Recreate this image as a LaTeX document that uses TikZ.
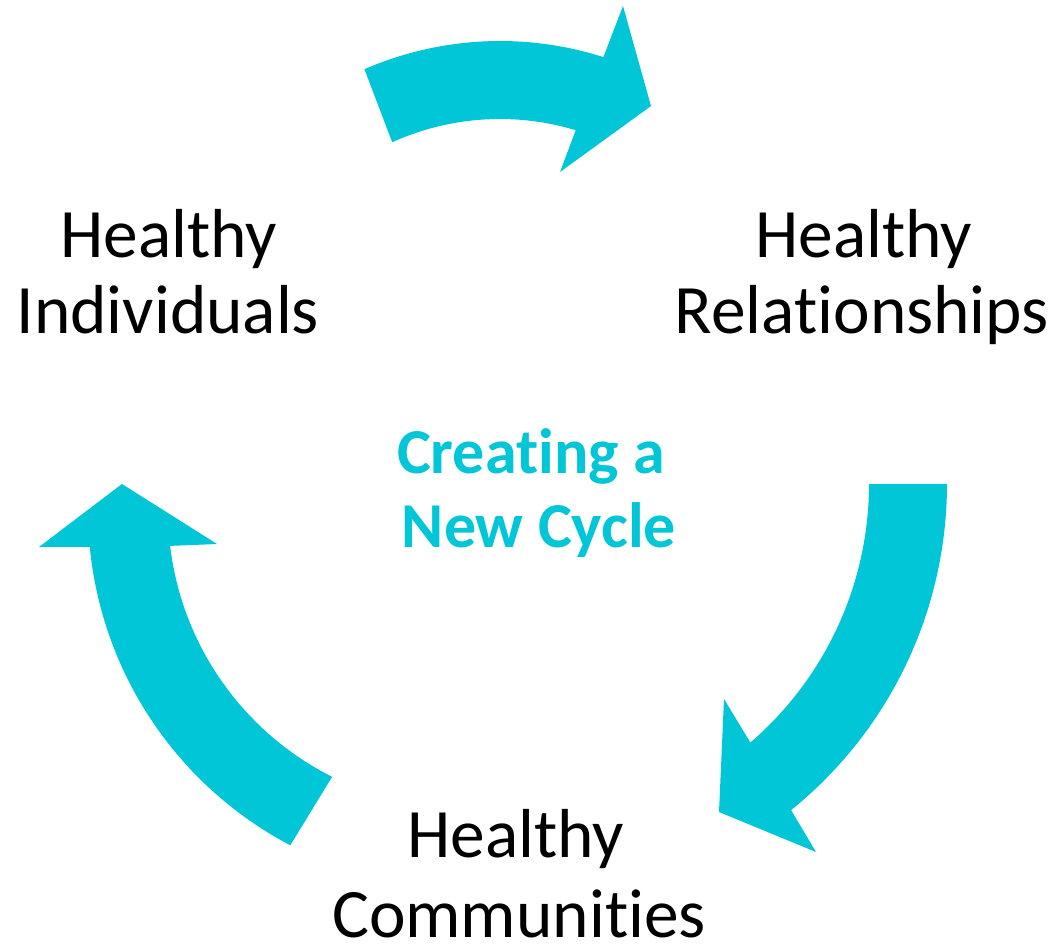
\documentclass[tikz,border=0pt]{standalone}
\usepackage{fontspec}
\setmainfont{Carlito}[Ligatures=NoCommon]
\definecolor{cyanc}{RGB}{0,198,216}
\begin{document}
\begin{tikzpicture}[x=0.75pt,y=-0.75pt,
  arrowfill/.style={fill=cyanc,draw=none},
  lbl/.style={font=\fontsize{52}{58}\selectfont,anchor=base,inner sep=0pt,text=black},
  ctr/.style={font=\fontsize{48}{55}\selectfont\bfseries,anchor=base,inner sep=0pt,text=cyanc}]
\useasboundingbox (0,0) rectangle (1059,943);
% top arrow
\fill[arrowfill] plot[domain=113.5:72.3,samples=50,variable=\t] ({500+340*cos(\t)},{381-340*sin(\t)})
  -- (623,6) -- (651,106) -- (560,172)
  -- plot[domain=73.2:114.3,samples=50,variable=\t] ({500+262*cos(\t)},{381-262*sin(\t)}) -- cycle;
% right arrow
\fill[arrowfill] plot[domain=0:-51.1,samples=50,variable=\t] ({528+419*cos(\t)},{484-419*sin(\t)})
  -- (816,852) -- (719,812) -- (724,699)
  -- plot[domain=-49.3:0,samples=50,variable=\t] ({528+341*cos(\t)},{484-341*sin(\t)}) -- cycle;
% left arrow
\fill[arrowfill] plot[domain=242.3:185.5,samples=50,variable=\t] ({466+378*cos(\t)},{510.6-378*sin(\t)})
  -- (39,547) -- (122,484) -- (217,544)
  -- plot[domain=186.8:243.3,samples=50,variable=\t] ({466+298*cos(\t)},{510.6-298*sin(\t)}) -- cycle;
% labels
\node[lbl] (ind1) at (169,257) {Healthy};
\node[lbl] (ind2) at (168,333) {Individuals};
\node[lbl] (rel1) at (864,257) {Healthy};
\node[lbl] (rel2) at (862,333) {Relationships};
\node[lbl] (com1) at (516,857) {Healthy};
\node[lbl] (com2) at (519,937) {Communities};
\node[ctr] (cyc1) at (531,473) {Creating a};
\node[ctr] (cyc2) at (539,547) {New Cycle};
\end{tikzpicture}
\end{document}
